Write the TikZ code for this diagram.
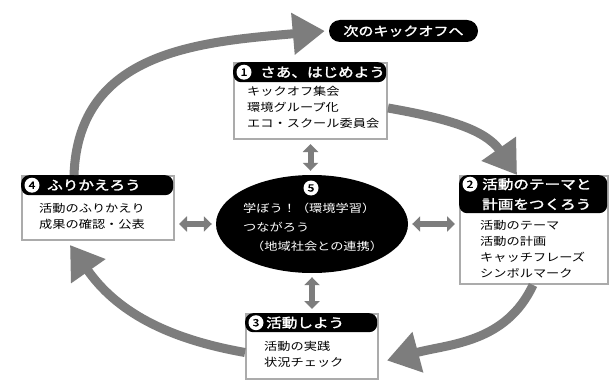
\documentclass[tikz,border=0pt]{standalone}
\usepackage{fontspec}
\usepackage{tikz}
\usetikzlibrary{arrows.meta,shapes.geometric}
\newfontfamily\jp[FakeStretch=1.2]{Noto Sans CJK JP}
\newfontfamily\jpb[FakeStretch=1.2,FakeBold=2]{Noto Sans CJK JP}
\definecolor{arcgray}{HTML}{7D7D7D}
\definecolor{boxgray}{HTML}{ABABAB}

\begin{document}
\begin{tikzpicture}[x=1pt,y=1pt,
  panel/.style={draw=boxgray,line width=2pt,fill=white,anchor=north west,inner sep=0pt},
  headbar/.style={fill=black,rounded corners=8pt,anchor=north west,inner sep=0pt},
  numdot/.style={circle,fill=white,inner sep=0pt,minimum size=15pt,font=\jpb\fontsize{10}{10}\selectfont},
  headtext/.style={text=white,anchor=west,inner sep=0pt,align=left,font=\jpb\fontsize{13}{20}\selectfont},
  itemtext/.style={anchor=north west,inner sep=0pt,align=left,font=\jp\fontsize{11}{16}\selectfont},
  cyclearrow/.style={draw=arcgray,line width=9pt,-{Triangle[length=32pt,width=40pt]}},
  linkarrow/.style={draw=arcgray,line width=6pt,{Triangle[length=8pt,width=15pt]}-{Triangle[length=8pt,width=15pt]},shorten <=4pt,shorten >=4pt}]

\useasboundingbox (0,0) rectangle (610,-385);
\fill[white] (0,0) rectangle (610,-385);

% next kick-off
\node[fill=black,rounded corners=11pt,minimum width=149pt,minimum height=22pt,inner sep=0pt,
  text=white,font=\jpb\fontsize{12.5}{12.5}\selectfont] (next) at (403.5,-31) {次のキックオフへ};

% step 1
\node[panel,minimum width=153pt,minimum height=76pt] (p1) at (233,-62) {};
\node[headbar,minimum width=153pt,minimum height=20pt] (h1) at (233,-62) {};
\node[numdot] (n1) at ([xshift=11pt]h1.west) {1};
\node[headtext] (t1) at ([xshift=27pt]h1.west) {さあ、はじめよう};
\node[itemtext] (i1) at (247,-86) {キックオフ集会\\環境グループ化\\エコ・スクール委員会};

% step 2
\node[panel,minimum width=148pt,minimum height=108pt] (p2) at (459,-175) {};
\node[headbar,minimum width=148pt,minimum height=38pt] (h2) at (459,-175) {};
\node[numdot] (n2) at ([xshift=11pt,yshift=10pt]h2.west) {2};
\node[headtext] (t2) at ([xshift=23pt]h2.west) {活動のテーマと\\計画をつくろう};
\node[itemtext] (i2) at (480,-220) {活動のテーマ\\活動の計画\\キャッチフレーズ\\シンボルマーク};

% step 3
\node[panel,minimum width=132pt,minimum height=65pt] (p3) at (245,-313) {};
\node[headbar,minimum width=132pt,minimum height=19pt] (h3) at (245,-313) {};
\node[numdot] (n3) at ([xshift=11pt]h3.west) {3};
\node[headtext] (t3) at ([xshift=21pt]h3.west) {活動しよう};
\node[itemtext] (i3) at (264,-341) {活動の実践\\状況チェック};

% step 4
\node[panel,minimum width=152pt,minimum height=64pt] (p4) at (21,-175) {};
\node[headbar,minimum width=152pt,minimum height=20pt] (h4) at (21,-175) {};
\node[numdot] (n4) at ([xshift=11pt]h4.west) {4};
\node[headtext] (t4) at ([xshift=26pt]h4.west) {ふりかえろう};
\node[itemtext] (i4) at (39,-203) {活動のふりかえり\\成果の確認・公表};

% centre
\node[ellipse,fill=black,minimum width=192pt,minimum height=98pt] (e) at (312,-224) {};
\node[numdot] (n5) at (311,-188) {5};
\node[itemtext,text=white,font=\jp\fontsize{11}{19}\selectfont] (t5) at (243,-203)
  {学ぼう！（環境学習）\\つながろう\\\hspace*{8pt}（地域社会との連携）};

% links to the centre
\draw[linkarrow] (p1.south) -- (p1.south |- e.north);
\draw[linkarrow] (e.south) -- (e.south |- p3.north);
\draw[linkarrow] (e.west) -- (e.west -| p4.east);
\draw[linkarrow] (e.east) -- (e.east -| p2.west);

% the cycle
\draw[cyclearrow] ([xshift=53pt]p4.north west) to[out=88,in=185,looseness=1.1] ([xshift=-4pt]next.west);
\draw[cyclearrow] ([yshift=-7pt]p1.east) to[out=-10,in=125] ([xshift=58pt]p2.north west);
\draw[cyclearrow] ([xshift=74pt]p2.south west) to[out=-115,in=15] ([xshift=8pt,yshift=-14pt]p3.east);
\draw[cyclearrow] ([yshift=-6pt]p3.west) to[out=170,in=-55] ([xshift=49pt,yshift=-4pt]p4.south west);
\end{tikzpicture}
\end{document}
